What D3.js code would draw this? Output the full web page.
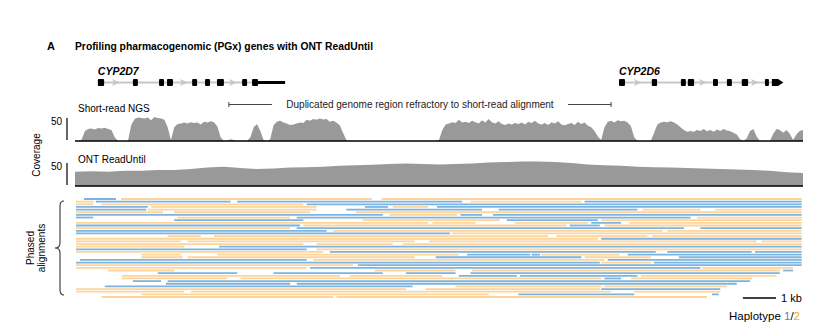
<!DOCTYPE html>
<html>
<head>
<meta charset="utf-8">
<script src="https://cdn.jsdelivr.net/npm/d3@7"></script>
<style>
  html, body { margin: 0; padding: 0; background: #fff; }
  svg { display: block; font-family: "Liberation Sans", Arial, Helvetica, sans-serif; }
</style>
</head>
<body>
<svg id="chart" width="836" height="323"></svg>
<script>
// ---- Locus (kb) ----
const locusKb = [0, 22];

// ---- Gene models (kb) ----
const geneNames = ["CYP2D7", "CYP2D6"];
const cyp2d7Exons = [[0.69,0.88],[1.75,1.90],[2.54,2.69],[2.78,2.96],[3.54,3.69],[3.93,4.08],[4.29,4.50],[5.05,5.20],[5.35,5.53]];
const cyp2d7Arrows = [1.24, 3.29, 4.78];
const cyp2d7Tail = [5.53, 6.35];
const cyp2d6Exons = [[16.44,16.62],[17.43,17.59],[18.31,18.46],[18.52,18.71],[19.28,19.43],[19.70,19.85],[20.15,20.34],[20.85,20.97],[21.06,21.40]];
const cyp2d6Arrows = [17.01, 18.98, 20.55];

// ---- Duplicated region annotation (kb) ----
const dupLeft = [4.65, 5.95];
const dupRight = [14.9, 16.2];
const dupText = "Duplicated genome region refractory to short-read alignment";

// ---- Coverage tracks ----
const trackNames = ["Short-read NGS", "ONT ReadUntil"];
const covTickLabels = ["50"];
const covTickValue = 50;
// Short-read coverage, 0.1 kb bins starting at 0 kb
const srBinKb = 0.1;
const shortReadCov = [
  0,0,3,22,26,27,25,28,27,29, 26,24,8,0,0,0,0,35,48,51,
  50,49,51,45,52,50,49,46,30,2, 30,37,38,40,38,41,39,40,36,42,
  40,43,41,32,8,0,1,4,2,0, 0,0,0,8,30,37,22,2,0,4,
  34,42,44,40,38,35,36,38,40,39, 46,44,48,46,49,47,48,42,44,40,
  34,18,2,0,0,0,0,0,0,0, 0,0,0,0,0,0,0,0,0,0,
  0,0,0,0,0,0,0,0,0,0, 2,24,36,38,41,39,46,40,42,39,
  44,41,38,45,40,48,41,38,43,37, 35,38,36,39,37,40,36,42,39,44,
  38,36,39,35,41,38,43,36,34,37, 39,35,42,37,40,33,30,22,10,2,
  30,42,44,40,45,43,44,40,32,8, 0,0,0,0,0,18,36,40,42,41,
  43,40,36,30,24,20,22,20,24,22, 26,21,24,20,25,22,26,23,21,18,
  14,4,0,6,22,26,10,0,0,0, 0,16,26,24,18,24,16,2,14,22,
  24
];
// ONT ReadUntil coverage, 0.5 kb bins starting at 0 kb
const ontBinKb = 0.5;
const ontCov = [
  31,32,31,33,33,35,35,37,40,42, 39,37,38,40,41,42,44,45,46,48,
  49,48,47,48,49,51,52,53,53,52, 50,47,45,44,42,41,40,39,38,37,
  36,35,33,30,28
];

// ---- Phased alignments: one list per row, reads as [start kb, end kb, haplotype] ----
const alignmentRows = [
  [[0.27,1.24,1],[1.39,8.97,2],[9.27,21.96,2]],
  [[0.03,0.57,2],[0.63,4.7,1],[4.9,11.7,1],[11.95,15.3,2],[15.4,21.96,1]],
  [[0.03,0.55,2],[0.8,6.9,2],[7.0,21.96,1]],
  [[0.03,2.2,1],[2.3,7.3,2],[8.76,9.46,1],[9.6,10.67,2],[10.94,21.96,1]],
  [[0.03,2.15,1],[2.2,7.3,2],[8.2,12.3,1],[12.8,17.0,1],[17.15,18.9,2],[19.35,21.96,2]],
  [[0.03,2.66,2],[3.0,7.1,2],[8.5,21.96,2]],
  [[0.03,9.3,1],[9.5,11.55,2],[11.65,12.3,1],[12.63,21.96,1]],
  [[0.03,0.55,1],[3.1,6.5,2],[6.7,18.6,1],[18.8,21.96,2]],
  [[3.0,6.9,1],[8.7,12.83,2],[13.05,15.8,1],[15.9,21.96,2]],
  [[0.03,10.67,2],[10.8,12.1,2],[13.3,15.5,2],[15.6,16.5,1],[16.75,21.96,2]],
  [[0.03,6.8,1],[6.9,14.85,2],[14.95,15.86,1],[16.0,21.96,2]],
  [[0.03,6.5,2],[6.7,18.4,1],[18.9,21.96,1]],
  [[0.03,7.6,1],[7.8,17.75,2],[17.9,21.96,2]],
  [[0.03,11.33,1],[11.4,21.96,2]],
  [[2.8,3.8,2],[4.2,14.3,2],[14.55,17.3,2],[17.45,21.96,2]],
  [[0.03,15.8,2],[15.9,21.96,1]],
  [[0.03,3.2,2],[3.4,10.27,2],[10.7,20.6,2],[20.75,21.96,2]],
  [[0.03,6.9,2],[7.3,9.6,2],[9.9,21.96,2]],
  [[0.03,3.3,2],[4.35,21.96,1]],
  [[0.03,7.0,1],[7.3,21.96,2]],
  [[0.03,7.5,2],[7.7,17.55,1],[17.9,20.45,1],[20.55,21.96,1]],
  [[2.0,3.2,2],[4.3,11.6,2],[11.85,13.75,1],[13.8,14.05,1],[14.1,16.45,2],[16.7,21.96,1]],
  [[2.0,3.25,2],[3.4,10.27,2],[10.9,15.3,1],[15.4,17.4,2],[18.25,21.96,1]],
  [[0.15,7.0,1],[7.2,16.0,2],[16.1,21.96,1]],
  [[0.03,15.86,1],[15.9,17.4,2],[17.5,21.96,1]],
  [[0.03,8.4,2],[8.55,21.96,1]],
  [[0.03,7.0,2],[7.1,18.9,1],[18.95,21.7,2]],
  [[1.0,3.0,2],[9.06,11.5,2],[12.0,21.3,2],[21.4,21.7,1]],
  [[2.5,4.9,1],[6.0,9.3,1],[10.0,11.5,1],[11.95,21.3,1]],
  [[1.42,8.0,2],[8.3,11.1,2],[11.6,13.35,1],[13.45,17.0,1],[17.1,21.2,2]],
  [[1.42,4.6,2],[5.0,15.9,2],[16.0,16.5,1],[16.8,20.45,2]],
  [[1.75,2.6,1],[2.8,20.4,1]],
  [[2.75,6.5,1],[6.7,20.0,1]],
  [[0.9,10.2,1],[11.5,15.9,2],[16.0,19.7,2]],
  [[0.03,10.0,2],[10.6,15.86,2],[15.9,19.5,1]],
  [[0.03,3.3,2],[3.5,16.2,2],[16.9,19.5,2]],
  [[2.0,12.5,2],[13.4,16.9,1],[19.25,19.45,1]],
  [[0.8,7.8,2],[7.9,19.1,2]]
];
const haplotypeColors = { 1: "#7db3df", 2: "#fdd49a" };
const haplotypeTextColors = { 1: "#3a8ed2", 2: "#f5a52a" };
const scaleBarKb = 1;

// ---- Drawing ----
const svg = d3.select("#chart");
const x = d3.scaleLinear().domain(locusKb).range([75, 803]);

// Title
svg.append("text").attr("x", 47).attr("y", 50)
  .attr("font-size", 11).attr("font-weight", "bold").text("A");
svg.append("text").attr("x", 75).attr("y", 50)
  .attr("font-size", 10.3).attr("font-weight", "bold")
  .text("Profiling pharmacogenomic (PGx) genes with ONT ReadUntil");

// Gene models
const geneY = 82.5;
function drawGene(name, exons, arrows, tail, pointed) {
  const g = svg.append("g");
  const first = exons[0][0], last = exons[exons.length - 1][1];
  g.append("line").attr("x1", x(first)).attr("x2", x(last))
    .attr("y1", geneY).attr("y2", geneY)
    .attr("stroke", "#c8c8c8").attr("stroke-width", 2);
  g.selectAll("path.arrow").data(arrows).join("path")
    .attr("class", "arrow")
    .attr("d", d => {
      const cx = x(d);
      return `M${cx - 4},${geneY - 3.5} L${cx + 4},${geneY} L${cx - 4},${geneY + 3.5} L${cx - 2},${geneY} Z`;
    })
    .attr("fill", "#c8c8c8");
  if (tail) {
    g.append("line").attr("x1", x(tail[0])).attr("x2", x(tail[1]))
      .attr("y1", geneY).attr("y2", geneY)
      .attr("stroke", "#000").attr("stroke-width", 3);
  }
  const body = pointed ? exons.slice(0, -1) : exons;
  g.selectAll("rect.exon").data(body).join("rect")
    .attr("class", "exon")
    .attr("x", d => x(d[0])).attr("width", d => x(d[1]) - x(d[0]))
    .attr("y", geneY - 3.5).attr("height", 7).attr("rx", 1)
    .attr("fill", "#000");
  if (pointed) {
    const e = exons[exons.length - 1];
    const x0 = x(e[0]), x1 = x(e[1]);
    g.append("path")
      .attr("d", `M${x0},${geneY - 3.5} L${x1 - 5},${geneY - 3.5} L${x1},${geneY} L${x1 - 5},${geneY + 3.5} L${x0},${geneY + 3.5} Z`)
      .attr("fill", "#000");
  }
  g.append("text").attr("x", x(first)).attr("y", 75)
    .attr("font-size", 10.5).attr("font-weight", "bold").attr("font-style", "italic")
    .text(name);
}
drawGene(geneNames[0], cyp2d7Exons, cyp2d7Arrows, cyp2d7Tail, false);
drawGene(geneNames[1], cyp2d6Exons, cyp2d6Arrows, null, true);

// Duplicated region bracket
const dupY = 104.5;
const dupG = svg.append("g").attr("stroke", "#444").attr("stroke-width", 1);
dupG.append("line").attr("x1", x(dupLeft[0])).attr("x2", x(dupLeft[1])).attr("y1", dupY).attr("y2", dupY);
dupG.append("line").attr("x1", x(dupLeft[0])).attr("x2", x(dupLeft[0])).attr("y1", dupY - 2.5).attr("y2", dupY + 2.5);
dupG.append("line").attr("x1", x(dupRight[0])).attr("x2", x(dupRight[1])).attr("y1", dupY).attr("y2", dupY);
dupG.append("line").attr("x1", x(dupRight[1])).attr("x2", x(dupRight[1])).attr("y1", dupY - 2.5).attr("y2", dupY + 2.5);
svg.append("text").attr("x", (x(dupLeft[1]) + x(dupRight[0])) / 2).attr("y", dupY + 3.5)
  .attr("text-anchor", "middle").attr("font-size", 10).attr("fill", "#222")
  .text(dupText);

// Coverage tracks
function drawCoverage(values, binKb, baseY, label, labelY) {
  const y = d3.scaleLinear().domain([0, covTickValue]).range([baseY, baseY - 23]);
  const area = d3.area()
    .x((d, i) => x(Math.min(i * binKb, locusKb[1])))
    .y0(baseY).y1(d => y(d))
    .curve(d3.curveLinear);
  svg.append("path").datum(values).attr("d", area).attr("fill", "#999999");
  svg.append("line").attr("x1", x(locusKb[0])).attr("x2", x(locusKb[1]))
    .attr("y1", baseY).attr("y2", baseY).attr("stroke", "#000").attr("stroke-width", 1.5);
  // scale bar axis (0 .. 50)
  const axis = d3.axisLeft(y).tickValues([covTickValue]).tickFormat(() => covTickLabels[0])
    .tickSize(0).tickPadding(5);
  const ag = svg.append("g").attr("transform", "translate(67,0)").call(axis);
  ag.select(".domain").attr("stroke", "#000").attr("stroke-width", 1.2).attr("d", `M0,${y(covTickValue)}V${baseY - 1}`);
  ag.selectAll("text").attr("font-size", 10).attr("fill", "#000")
    .attr("font-family", "'Liberation Sans', Arial, sans-serif").attr("dy", "0.6em");
  svg.append("text").attr("x", 78).attr("y", labelY).attr("font-size", 10).text(label);
}
drawCoverage(shortReadCov, srBinKb, 141, trackNames[0], 112);
drawCoverage(ontCov, ontBinKb, 186, trackNames[1], 163);

svg.append("text").attr("transform", "translate(40,155) rotate(-90)")
  .attr("text-anchor", "middle").attr("font-size", 10).text("Coverage");

// Phased alignments
const rowY = d3.scalePoint().domain(d3.range(alignmentRows.length)).range([199, 297]);
const readsFlat = alignmentRows.flatMap((row, r) => row.map(d => ({ row: r, s: d[0], e: d[1], h: d[2] })));
svg.append("g").selectAll("line").data(readsFlat).join("line")
  .attr("x1", d => x(d.s)).attr("x2", d => x(d.e))
  .attr("y1", d => rowY(d.row)).attr("y2", d => rowY(d.row))
  .attr("stroke", d => haplotypeColors[d.h]).attr("stroke-width", 1.8);

// Brace
svg.append("path")
  .attr("d", "M64,201 Q60,201 60,206 L60,243 Q60,248 55,248 Q60,248 60,253 L60,290 Q60,295 64,295")
  .attr("fill", "none").attr("stroke", "#333").attr("stroke-width", 1.1);
const pa = svg.append("text").attr("transform", "translate(36,248) rotate(-90)")
  .attr("text-anchor", "middle").attr("font-size", 10);
pa.append("tspan").attr("x", 0).attr("dy", "-0.2em").text("Phased");
pa.append("tspan").attr("x", 0).attr("dy", "1.1em").text("alignments");

// Scale bar
const sbEnd = 776;
const sbStart = sbEnd - (x(scaleBarKb) - x(0));
svg.append("line").attr("x1", sbStart).attr("x2", sbEnd).attr("y1", 298).attr("y2", 298)
  .attr("stroke", "#000").attr("stroke-width", 1.5);
svg.append("text").attr("x", 781).attr("y", 302).attr("font-size", 11).text(scaleBarKb + " kb");

// Haplotype legend
const leg = svg.append("text").attr("x", 800).attr("y", 320).attr("text-anchor", "end").attr("font-size", 11.5);
leg.append("tspan").text("Haplotype ");
leg.append("tspan").attr("fill", haplotypeTextColors[1]).text("1");
leg.append("tspan").text("/");
leg.append("tspan").attr("fill", haplotypeTextColors[2]).text("2");
</script>
</body>
</html>
